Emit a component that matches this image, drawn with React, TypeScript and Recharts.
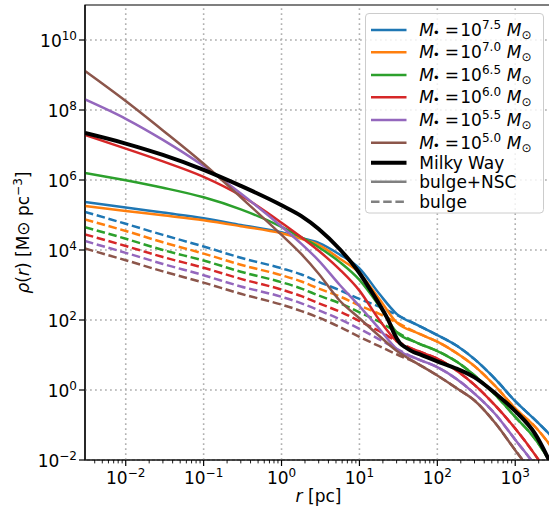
import React from 'react';
import { LineChart, Line, XAxis, YAxis, ReferenceLine, ReferenceArea, Legend } from 'recharts';

// radius grid [pc]
const radiusPc = [0.003, 0.01, 0.03, 0.1, 0.3, 1, 1.8, 3, 5.6, 10, 18, 30, 56, 100, 180, 300, 560, 1000, 1800, 3000];

// bulge + NSC density [Msun/pc^3] for each black-hole mass
const nsc75 = [2.34e5, 1.64e5, 1.17e5, 8.1e4, 5.2e4, 3.2e4, 2.2e4, 1.6e4, 7.4e3, 3.0e3, 560, 150, 71, 37, 18, 7.6, 2.0, 0.48, 0.14, 0.045];
const nsc70 = [1.8e5, 1.3e5, 9.8e4, 7.1e4, 4.8e4, 3.0e4, 2.1e4, 1.4e4, 5.6e3, 2.2e3, 400, 85, 42, 24, 11, 4.8, 1.26, 0.3, 0.089, 0.022];
const nsc65 = [1.6e6, 9.8e5, 6.0e5, 3.2e5, 1.45e5, 4.6e4, 2.3e4, 1.2e4, 4.5e3, 1.4e3, 250, 45, 22, 13, 6.3, 2.6, 0.71, 0.17, 0.04, 0.007];
const nsc60 = [1.95e7, 7.9e6, 3.4e6, 1.23e6, 3.6e5, 6.0e4, 2.3e4, 9.5e3, 2.75e3, 690, 100, 25, 13, 7.9, 3.5, 1.4, 0.35, 0.079, 0.014, 0.0025];
const nsc55 = [2.0e8, 5.6e7, 1.4e7, 2.5e6, 4.1e5, 4.7e4, 1.5e4, 5.0e3, 1.0e3, 250, 56, 15, 7.6, 4.5, 2.0, 0.79, 0.2, 0.038, 0.007, 0.0013];
const nsc50 = [1.3e9, 1.8e8, 2.6e7, 2.9e6, 3.2e5, 2.7e4, 7.6e3, 2.1e3, 355, 112, 35, 13.2, 5.6, 2.6, 1.1, 0.5, 0.11, 0.019, 0.0032, 0.0005];

// bulge-only density
const bulge75 = [1.23e5, 5.6e4, 2.7e4, 1.26e4, 6.0e3, 3.0e3, 2.0e3, 1.23e3, 710, 400, 240, 141, 71, 37, 18, 7.6, 2.0, 0.48, 0.14, 0.045];
const bulge70 = [7.4e4, 3.5e4, 1.66e4, 7.9e3, 3.8e3, 1.9e3, 1.26e3, 790, 470, 260, 150, 85, 42, 24, 11, 4.8, 1.26, 0.3, 0.089, 0.022];
const bulge65 = [4.5e4, 2.1e4, 1.0e4, 5.0e3, 2.4e3, 1.2e3, 790, 500, 300, 166, 89, 45, 22, 13, 6.3, 2.6, 0.71, 0.17, 0.04, 0.007];
const bulge60 = [2.8e4, 1.3e4, 6.3e3, 3.1e3, 1.5e3, 740, 480, 300, 174, 93, 48, 25, 13, 7.9, 3.5, 1.4, 0.35, 0.079, 0.014, 0.0025];
const bulge55 = [1.8e4, 8.3e3, 4.0e3, 1.9e3, 910, 460, 300, 190, 105, 56, 28, 15, 7.6, 4.5, 2.0, 0.79, 0.2, 0.038, 0.007, 0.0013];
const bulge50 = [1.1e4, 5.1e3, 2.45e3, 1.17e3, 560, 275, 180, 117, 63, 33, 17.8, 10.5, 5.6, 2.6, 1.1, 0.5, 0.11, 0.019, 0.0032, 0.0005];

// Milky Way
const mwRadiusPc = [0.003, 0.01, 0.03, 0.1, 0.3, 1, 1.8, 3, 5.6, 10, 13.5, 18, 24, 28, 33, 40, 50, 56, 100, 180, 300, 560, 1000, 1800, 3000];
const mwDensity = [2.2e7, 1.1e7, 5.2e6, 1.95e6, 6.8e5, 1.9e5, 9.3e4, 4.0e4, 1.05e4, 2.2e3, 790, 280, 89, 40, 22, 16, 12, 11, 6.6, 4.0, 2.3, 0.79, 0.25, 0.056, 0.0063];

const massExponents = ['7.5', '7.0', '6.5', '6.0', '5.5', '5.0'];
const seriesColors = ['#1f77b4', '#ff7f0e', '#2ca02c', '#d62728', '#9467bd', '#8c564b'];
const nscSeries = [nsc75, nsc70, nsc65, nsc60, nsc55, nsc50];
const bulgeSeries = [bulge75, bulge70, bulge65, bulge60, bulge55, bulge50];

const xMajorTicks = [0.01, 0.1, 1, 10, 100, 1000];
const xMinorTicks = [
  0.004, 0.005, 0.006, 0.007, 0.008, 0.009,
  0.02, 0.03, 0.04, 0.05, 0.06, 0.07, 0.08, 0.09,
  0.2, 0.3, 0.4, 0.5, 0.6, 0.7, 0.8, 0.9,
  2, 3, 4, 5, 6, 7, 8, 9,
  20, 30, 40, 50, 60, 70, 80, 90,
  200, 300, 400, 500, 600, 700, 800, 900,
  2000, 3000,
];
const yMajorTicks = [1e-2, 1, 1e2, 1e4, 1e6, 1e8, 1e10];

const rows = radiusPc.map((r, i) => {
  const row: Record<string, number> = { r };
  nscSeries.forEach((s, k) => { row['nsc' + k] = s[i]; });
  bulgeSeries.forEach((s, k) => { row['bulge' + k] = s[i]; });
  return row;
});
const mwRows = mwRadiusPc.map((r, i) => ({ r, mw: mwDensity[i] }));

const FONT = 'DejaVu Sans';
const fmtExp = (v: number) => {
  const e = Math.round(Math.log10(v));
  return e < 0 ? '\u2212' + Math.abs(e) : String(e);
};
const isMajor = (v: number) => Math.abs(Math.log10(v) - Math.round(Math.log10(v))) < 1e-6;

const XTick = (props: any) => {
  const { x, y, payload } = props;
  const v = payload.value;
  const major = isMajor(v);
  return (
    <g>
      <line x1={x} x2={x} y1={y} y2={y + (major ? 6 : 3.4)} stroke="#000" strokeWidth={major ? 1.2 : 0.9} />
      {major && (
        <text x={x} y={y + 24} textAnchor="middle" fontFamily={FONT} fontSize={17} fill="#000">
          10<tspan dy={-7} fontSize={12}>{fmtExp(v)}</tspan>
        </text>
      )}
    </g>
  );
};

const YTick = (props: any) => {
  const { x, y, payload } = props;
  const v = payload.value;
  return (
    <g>
      <line x1={x - 6} x2={x} y1={y} y2={y} stroke="#000" strokeWidth={1.2} />
      <text x={x - 8} y={y + 6.5} textAnchor="end" fontFamily={FONT} fontSize={17} fill="#000">
        10<tspan dy={-7} fontSize={12}>{fmtExp(v)}</tspan>
      </text>
    </g>
  );
};

const XLabel = () => (
  <text x={318.5} y={502} textAnchor="middle" fontFamily={FONT} fontSize={17} fill="#000">
    <tspan fontStyle="italic">r</tspan> [pc]
  </text>
);

const YLabel = () => (
  <text x={29} y={232.5} transform="rotate(-90, 29, 232.5)" textAnchor="middle" fontFamily={FONT} fontSize={17} fill="#000">
    <tspan fontStyle="italic">ρ</tspan>(<tspan fontStyle="italic">r</tspan>) [M⊙ pc<tspan dy={-7} fontSize={12}>−3</tspan><tspan dy={7}>]</tspan>
  </text>
);

const LegendBox = () => {
  const rowY = [17, 39.3, 62, 84.3, 107, 129.7, 149.7, 168.7, 188.7];
  const hx1 = 6;
  const hx2 = 41.5;
  const tx = 54.3;
  return (
    <svg width={180} height={202} style={{ display: 'block', overflow: 'visible' }}>
      <rect x={0.5} y={0.5} width={178} height={199.5} rx={3.5} fill="#fff" fillOpacity={0.8} stroke="#cccccc" strokeWidth={1} />
      {massExponents.map((e, i) => (
        <g key={e}>
          <line x1={hx1} x2={hx2} y1={rowY[i]} y2={rowY[i]} stroke={seriesColors[i]} strokeWidth={2.5} />
          <text x={tx} y={rowY[i] + 6} fontFamily={FONT} fontSize={17} fill="#000">
            <tspan fontStyle="italic">M</tspan>
            <tspan x={tx + 13.5} dy={1} fontSize={12}>•</tspan>
            <tspan x={tx + 25.5} dy={-1}>=</tspan>
            <tspan x={tx + 41}>10</tspan>
            <tspan dy={-7} fontSize={12}>{e}</tspan>
            <tspan x={tx + 87.5} dy={7} fontStyle="italic">M</tspan>
            <tspan dy={3} fontSize={12}>⊙</tspan>
          </text>
        </g>
      ))}
      <line x1={hx1} x2={hx2} y1={rowY[6]} y2={rowY[6]} stroke="#000" strokeWidth={4} />
      <text x={tx} y={rowY[6] + 6} fontFamily={FONT} fontSize={17} fill="#000">Milky Way</text>
      <line x1={hx1} x2={hx2} y1={rowY[7]} y2={rowY[7]} stroke="#808080" strokeWidth={2.5} />
      <text x={tx} y={rowY[7] + 6} fontFamily={FONT} fontSize={17} fill="#000">bulge+NSC</text>
      <line x1={hx1} x2={hx2} y1={rowY[8]} y2={rowY[8]} stroke="#808080" strokeWidth={2.5} strokeDasharray="8.5 3.7" />
      <text x={tx} y={rowY[8] + 6} fontFamily={FONT} fontSize={17} fill="#000">bulge</text>
    </svg>
  );
};

const App = () => (
  <div style={{ position: 'absolute', left: 0, top: 0, width: 549, height: 511, overflow: 'hidden', background: '#fff' }}>
    <LineChart width={553} height={511} data={rows} margin={{ top: 5, right: 0.6, bottom: 0, left: 0 }}>
      <XAxis
        dataKey="r"
        type="number"
        scale="log"
        domain={[0.003, 3000]}
        allowDataOverflow
        ticks={[...xMajorTicks, ...xMinorTicks]}
        interval={0}
        tick={<XTick />}
        tickLine={false}
        tickSize={0}
        tickMargin={0}
        height={51}
        axisLine={{ stroke: '#000', strokeWidth: 1.2 }}
        label={<XLabel />}
      />
      <YAxis
        type="number"
        scale="log"
        domain={[0.01, 1e11]}
        allowDataOverflow
        ticks={yMajorTicks}
        interval={0}
        tick={<YTick />}
        tickLine={false}
        tickSize={0}
        tickMargin={0}
        width={85}
        axisLine={{ stroke: '#000', strokeWidth: 1.2 }}
        label={<YLabel />}
      />
      {xMajorTicks.map((v) => (
        <ReferenceLine key={'gx' + v} x={v} stroke="#b0b0b0" strokeWidth={1.6} strokeDasharray="1.8 3.2" />
      ))}
      {yMajorTicks.map((v) => (
        <ReferenceLine key={'gy' + v} y={v} stroke="#b0b0b0" strokeWidth={1.6} strokeDasharray="1.8 3.2" />
      ))}
      <ReferenceArea x1={0.003} x2={3000} y1={0.01} y2={1e11} fill="none" fillOpacity={0} stroke="#000" strokeWidth={1.2} />
      {bulgeSeries.map((_, k) => (
        <Line key={'b' + k} dataKey={'bulge' + k} stroke={seriesColors[k]} strokeWidth={2.5} strokeDasharray="8.5 3.7" dot={false} isAnimationActive={false} type="monotone" />
      ))}
      {nscSeries.map((_, k) => (
        <Line key={'n' + k} dataKey={'nsc' + k} stroke={seriesColors[k]} strokeWidth={2.5} dot={false} isAnimationActive={false} type="monotone" />
      ))}
      <Line data={mwRows} dataKey="mw" stroke="#000" strokeWidth={4} dot={false} isAnimationActive={false} type="monotone" />
      <Legend
        layout="horizontal"
        align="center"
        verticalAlign="middle"
        width={180}
        height={202}
        content={<LegendBox />}
        wrapperStyle={{ left: 365, top: 13, right: 'auto', bottom: 'auto', width: 180, height: 202, margin: 0, padding: 0 }}
      />
    </LineChart>
  </div>
);

export default App;
